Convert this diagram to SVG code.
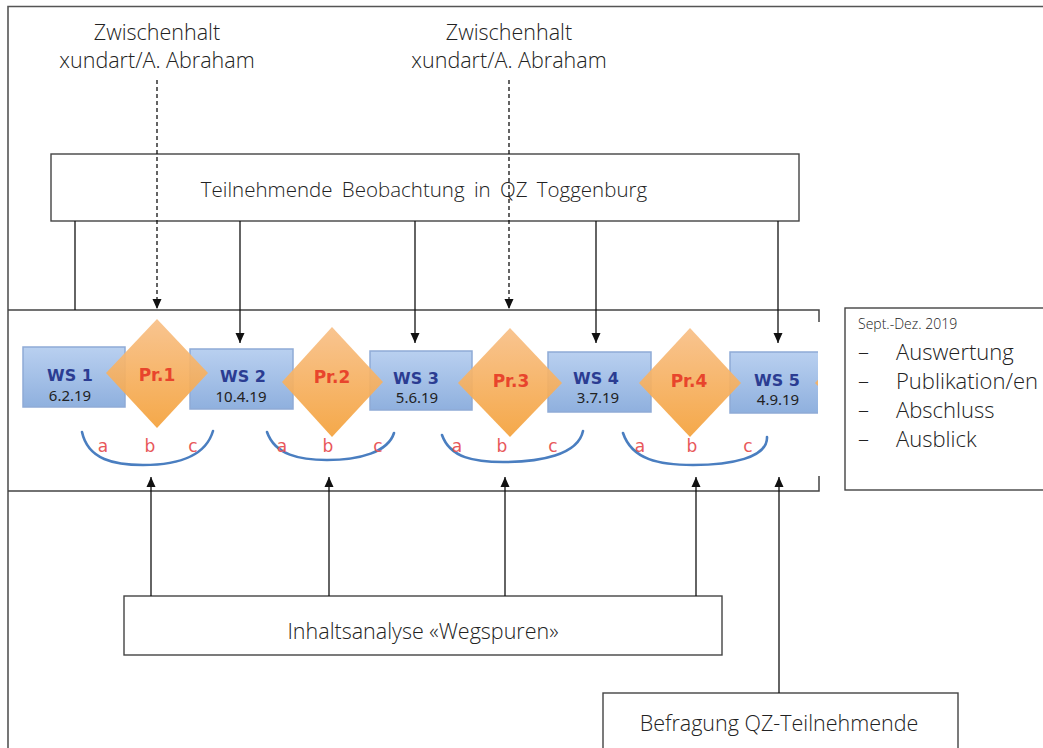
<svg xmlns="http://www.w3.org/2000/svg" width="1043" height="748" viewBox="0 0 1043 748">
<defs>
<style>
.lbl{font-family:"Open Sans","Liberation Sans",sans-serif;font-weight:300;fill:#222;}
.box{fill:#fff;stroke:#444;stroke-width:1.4;}
.ln{stroke:#111;stroke-width:1.3;fill:none;}
.dash{stroke:#111;stroke-width:1.3;fill:none;stroke-dasharray:4,3;}
.ws{fill:url(#gBlue);stroke:#8fabd6;stroke-width:1.5;}
.pr{fill:url(#gOr);opacity:0.93;}
.wst{font-family:"DejaVu Sans",Verdana,sans-serif;font-weight:bold;font-size:16px;fill:#2b3c92;text-anchor:middle;}
.dt{font-family:"Noto Sans","DejaVu Sans",sans-serif;font-size:15px;fill:#222;text-anchor:middle;}
.prt{font-family:"DejaVu Sans",Verdana,sans-serif;font-weight:bold;font-size:17px;fill:#e8452c;text-anchor:middle;}
.abc{font-family:"DejaVu Sans",Verdana,sans-serif;font-size:17px;fill:#e8585a;text-anchor:middle;}
.arc{fill:none;stroke:#4a7ec0;stroke-width:2.6;stroke-linecap:round;}
</style>
<linearGradient id="gBlue" x1="0" y1="0" x2="0" y2="1">
<stop offset="0" stop-color="#b9d0f0"/>
<stop offset="1" stop-color="#8fb0de"/>
</linearGradient>
<linearGradient id="gOr" x1="0" y1="0" x2="0" y2="1">
<stop offset="0" stop-color="#f8c088"/>
<stop offset="1" stop-color="#f4a23c"/>
</linearGradient>
<marker id="ah" markerWidth="10" markerHeight="10" viewBox="0 0 10 10" refX="10" refY="5" orient="auto" markerUnits="userSpaceOnUse">
<path d="M0,0.5 L10,5 L0,9.5 Z" fill="#111"/>
</marker>
<clipPath id="strip"><rect x="9" y="311" width="809" height="179"/></clipPath>
</defs>

<rect width="1043" height="748" fill="#fff"/>

<g id="frame">
<path d="M8,748 L8,6.5 L1043,6.5" fill="none" stroke="#555" stroke-width="1.6"/>
</g>

<g id="label-zw1">
<text class="lbl" font-size="21.5" x="157" y="40" text-anchor="middle">Zwischenhalt</text>
<text class="lbl" font-size="21.5" x="157" y="68" text-anchor="middle">xundart/A. Abraham</text>
</g>
<g id="label-zw2">
<text class="lbl" font-size="21.5" x="509" y="40" text-anchor="middle">Zwischenhalt</text>
<text class="lbl" font-size="21.5" x="509" y="68" text-anchor="middle">xundart/A. Abraham</text>
</g>

<g id="teilnehmende">
<rect class="box" x="51" y="154" width="748" height="67"/>
<text class="lbl" font-size="20.5" x="424" y="197" text-anchor="middle" word-spacing="4">Teilnehmende Beobachtung in QZ Toggenburg</text>
</g>

<g id="strip">
<path d="M819,322 L819,310 L8,310 M8,491 L819,491 L819,476" fill="none" stroke="#444" stroke-width="1.5"/>
<g clip-path="url(#strip)">
<g id="ws1"><rect class="ws" x="23" y="347" width="102" height="60"/></g>
<g id="ws2"><rect class="ws" x="190" y="349" width="103" height="60"/></g>
<g id="ws3"><rect class="ws" x="370" y="351" width="102" height="59"/></g>
<g id="ws4"><rect class="ws" x="548" y="352" width="103" height="60"/></g>
<g id="ws5"><rect class="ws" x="730" y="352" width="100" height="61"/></g>
<g id="pr1"><path class="pr" d="M157,319 L208,373 L157,428 L106,373 Z"/></g>
<g id="pr2"><path class="pr" d="M332,327 L383,382 L332,437 L282,382 Z"/></g>
<g id="pr3"><path class="pr" d="M510,328 L562,383 L510,437 L458,383 Z"/></g>
<g id="pr4"><path class="pr" d="M690,328 L741,383 L690,437 L639,383 Z"/></g>
<path class="pr" d="M867,328 L918,383 L867,437 L815,383 Z"/>
</g>
<text class="wst" x="70" y="381">WS 1</text>
<text class="dt" x="70" y="401">6.2.19</text>
<text class="wst" x="243" y="382">WS 2</text>
<text class="dt" x="241" y="402">10.4.19</text>
<text class="wst" x="416" y="384">WS 3</text>
<text class="dt" x="417" y="403">5.6.19</text>
<text class="wst" x="596" y="384">WS 4</text>
<text class="dt" x="598" y="403">3.7.19</text>
<text class="wst" x="777" y="386">WS 5</text>
<text class="dt" x="778" y="405">4.9.19</text>
<text class="prt" x="157" y="381">Pr.1</text>
<text class="prt" x="332" y="383">Pr.2</text>
<text class="prt" x="511" y="387">Pr.3</text>
<text class="prt" x="689" y="387">Pr.4</text>
<path class="arc" d="M82,432 C88,460 115,465 143,465 C175,465 205,458 213,431"/>
<path class="arc" d="M267,432 C275,455 300,460 327,460 C360,460 388,452 394,433"/>
<path class="arc" d="M442,435 C450,458 475,462 503,462 C540,462 578,455 583,431"/>
<path class="arc" d="M623,433 C632,460 660,465 693,465 C730,465 768,458 767,437"/>
<text class="abc" x="103" y="452">a</text><text class="abc" x="150" y="452">b</text><text class="abc" x="193" y="452">c</text>
<text class="abc" x="282" y="452">a</text><text class="abc" x="328" y="452">b</text><text class="abc" x="378" y="452">c</text>
<text class="abc" x="457" y="452">a</text><text class="abc" x="502" y="452">b</text><text class="abc" x="553" y="452">c</text>
<text class="abc" x="640" y="452">a</text><text class="abc" x="692" y="452">b</text><text class="abc" x="748" y="452">c</text>
</g>

<g id="sept">
<rect class="box" x="845" y="308" width="210" height="182"/>
<text class="lbl" font-size="14" font-weight="400" x="858" y="329">Sept.-Dez. 2019</text>
<g class="lbl" font-size="22">
<text x="858" y="360">–</text><text x="896" y="360">Auswertung</text>
<text x="858" y="389">–</text><text x="896" y="389">Publikation/en</text>
<text x="858" y="418">–</text><text x="896" y="418">Abschluss</text>
<text x="858" y="447">–</text><text x="896" y="447">Ausblick</text>
</g>
</g>

<g id="inhaltsanalyse">
<rect class="box" x="124" y="596" width="598" height="59"/>
<text class="lbl" font-size="21.5" x="423" y="639" text-anchor="middle">Inhaltsanalyse «Wegspuren»</text>
</g>

<g id="befragung">
<rect class="box" x="603" y="693" width="355" height="60"/>
<text class="lbl" font-size="21.5" x="779" y="731" text-anchor="middle">Befragung QZ-Teilnehmende</text>
</g>

<g id="connectors">
<path class="dash" d="M157,80 L157,309" marker-end="url(#ah)"/>
<path class="dash" d="M509,80 L509,309" marker-end="url(#ah)"/>
<path class="ln" d="M75,221 L75,310"/>
<path class="ln" d="M240,221 L240,343" marker-end="url(#ah)"/>
<path class="ln" d="M415,221 L415,343" marker-end="url(#ah)"/>
<path class="ln" d="M596,221 L596,343" marker-end="url(#ah)"/>
<path class="ln" d="M778,221 L778,343" marker-end="url(#ah)"/>
<path class="ln" d="M151,596 L151,477" marker-end="url(#ah)"/>
<path class="ln" d="M329,596 L329,477" marker-end="url(#ah)"/>
<path class="ln" d="M505,596 L505,477" marker-end="url(#ah)"/>
<path class="ln" d="M696,596 L696,477" marker-end="url(#ah)"/>
<path class="ln" d="M779,693 L779,477" marker-end="url(#ah)"/>
</g>
</svg>
